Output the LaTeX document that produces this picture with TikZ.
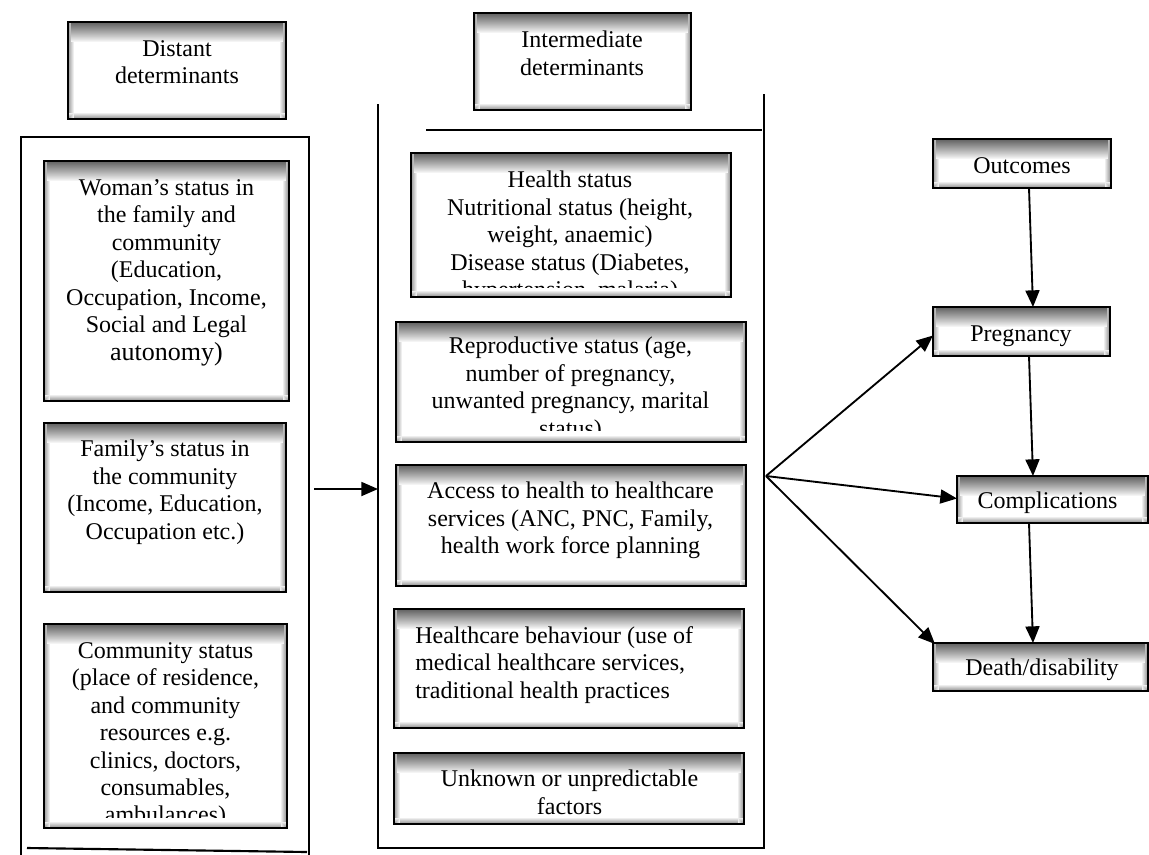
\documentclass[tikz,border=0pt]{standalone}
\usepackage{fontspec}
\setmainfont{Liberation Serif}
\usetikzlibrary{arrows.meta,fit,calc}
\newcommand\boxshade[1]{%
  \foreach \k in {0,...,5}{%
    \pgfmathsetmacro\gg{40*(1-\k/6)}%
    \fill[black!\gg] ($(#1.north west)+(\k,0)$) rectangle ($(#1.south west)+(\k+1.05,0)$);
    \fill[black!\gg] ($(#1.north east)+(-\k,0)$) rectangle ($(#1.south east)+(-\k-1.05,0)$);
    \fill[black!\gg] ($(#1.south west)+(0,-\k)$) rectangle ($(#1.south east)+(0,-\k-1.05)$);
  }%
  \foreach \k in {0,...,19}{%
    \pgfmathsetmacro\gg{62*(1-\k/20)^0.9}%
    \fill[black!\gg] ($(#1.north west)+(3,\k)$) rectangle ($(#1.north east)+(-3,\k+1.05)$);
  }%
  \draw[line width=1.5pt] (#1.north west) rectangle (#1.south east);
}
\begin{document}
\begin{tikzpicture}[x=0.75pt,y=-0.75pt,
  box/.style={fill=white, inner sep=0pt, outer sep=0pt},
  txt/.style={font=\fontsize{18}{20.6}\selectfont, align=center, inner sep=0pt},
  frame/.style={line width=1.4pt, line cap=rect},
  arr/.style={line width=1.4pt, -{Triangle[length=12.5pt,width=10.5pt]}}
]
\useasboundingbox (0,0) rectangle (1149,854);

% ---------- left frame ----------
\coordinate (lf-tl) at (21,137);
\coordinate (lf-tr) at (309,137);
\coordinate (lf-bl) at (21,854);
\coordinate (lf-br) at (309,854);
\coordinate (lf-b1) at (27,848);
\coordinate (lf-b2) at (307,852);
\draw[frame] (lf-bl) -- (lf-tl) -- (lf-tr) -- (lf-br);
\draw[line width=1.6pt] (lf-b1) -- (lf-b2);

% ---------- middle frame ----------
\coordinate (mf-lt) at (378,105);
\coordinate (mf-lb) at (378,848);
\coordinate (mf-rb) at (764,848);
\coordinate (mf-rt) at (764,95);
\coordinate (mf-h1) at (427,130);
\coordinate (mf-h2) at (761,130);
\draw[frame] (mf-lt) -- (mf-lb) -- (mf-rb) -- (mf-rt);
\draw[frame] (mf-h1) -- (mf-h2);

% ---------- boxes ----------
\node[box, fit={(68,22) (286,119)}] (distant) {};
\node[box, fit={(474,13) (691,110)}] (inter) {};
\node[box, fit={(44,161) (289,401)}] (woman) {};
\node[box, fit={(44,423) (286,592)}] (family) {};
\node[box, fit={(44,624) (287,828)}] (commun) {};
\node[box, fit={(411,153) (731,297)}] (health) {};
\node[box, fit={(396,322) (746,442)}] (repro) {};
\node[box, fit={(396,465) (746,586)}] (access) {};
\node[box, fit={(394,609) (744,728)}] (behav) {};
\node[box, fit={(394,753) (744,824)}] (unknown) {};
\node[box, fit={(933,139) (1111,188)}] (outc) {};
\node[box, fit={(933,307) (1110,356)}] (preg) {};
\node[box, fit={(957,476) (1148,523)}] (comp) {};
\node[box, fit={(933,643) (1148,691)}] (death) {};
\foreach \b in {distant,inter,woman,family,commun,health,repro,access,behav,unknown,outc,preg,comp,death}{\boxshade{\b}}

% ---------- texts ----------
\node[txt, anchor=north] (distant-t) at (177,40) {Distant\\determinants};
\node[txt, anchor=north] (inter-t) at (582,31) {Intermediate\\determinants};

\node[txt, anchor=north] (woman-t) at (166.5,179) {Woman’s status in\\the family and\\community\\(Education,\\Occupation, Income,\\Social and Legal\\{\fontsize{19.5}{20.6}\selectfont autonomy)}};
\node[txt, anchor=north] (family-t) at (165,440) {Family’s status in\\the community\\(Income, Education,\\Occupation etc.)};
\begin{scope}
  \clip (44,624) rectangle (287,817);
  \node[txt, anchor=north] (commun-t) at (165.5,642) {Community status\\(place of residence,\\and community\\resources e.g.\\clinics, doctors,\\consumables,\\ambulances)};
\end{scope}

\begin{scope}
  \clip (411,153) rectangle (731,287);
  \node[txt, anchor=north] (health-t) at (570,171) {Health status\\Nutritional status (height,\\weight, anaemic)\\Disease status (Diabetes,\\hypertension, malaria)};
\end{scope}
\begin{scope}
  \clip (396,322) rectangle (746,430);
  \node[txt, anchor=north] (repro-t) at (570.5,337) {Reproductive status (age,\\number of pregnancy,\\unwanted pregnancy, marital\\status)};
\end{scope}
\node[txt, anchor=north] (access-t) at (570.5,482) {Access to health to healthcare\\services (ANC, PNC, Family,\\health work force planning};
\node[txt, align=left, anchor=north west] (behav-t) at (415,626) {Healthcare behaviour (use of\\medical healthcare services,\\traditional health practices};
\node[txt, anchor=north] (unknown-t) at (569.5,770) {Unknown or unpredictable\\factors};

\node[txt, anchor=base] (outc-t) at (1022,173) {Outcomes};
\node[txt, anchor=base] (preg-t) at (1021,341) {Pregnancy};
\node[txt, anchor=base] (comp-t) at (1047.5,508) {Complications};
\node[txt, anchor=base] (death-t) at (1042,675) {Death/disability};

% ---------- connectors ----------
\coordinate (la) at (314,489);
\draw[arr] (la) -- (la -| mf-lt);

\coordinate (fan) at (766,476);
\draw[arr] (fan) -- ($(preg.west)+(0,4)$);
\draw[arr] (fan) -- ($(comp.west)+(0,-1)$);
\draw[arr] (fan) -- ($(death.north west)+(2,1)$);

\draw[arr] ($(outc.south)+(7,0)$) -- ($(preg.north)+(11.5,0)$);
\draw[arr] ($(preg.south)+(7.5,0)$) -- ($(comp.north)+(-19.5,0)$);
\draw[arr] ($(comp.south)+(-23.5,0)$) -- ($(death.north)+(-7.5,0)$);
\end{tikzpicture}
\end{document}
